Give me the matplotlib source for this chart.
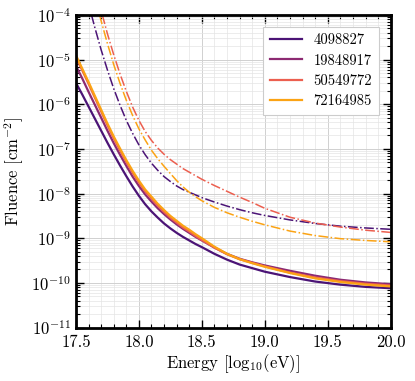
import numpy as np
import matplotlib
matplotlib.use("Agg")
import matplotlib.pyplot as plt
from matplotlib.ticker import MultipleLocator, LogLocator

plt.rcParams["font.family"] = "serif"
plt.rcParams["font.serif"] = ["cmr10", "DejaVu Serif"]
plt.rcParams["mathtext.fontset"] = "cm"
plt.rcParams["axes.formatter.use_mathtext"] = True

# energy grid [log10(eV)]
energy = [17.5, 17.55, 17.6, 17.65, 17.7, 17.75, 17.8, 17.85, 17.9, 17.95,
          18.0, 18.05, 18.1, 18.15, 18.2, 18.25, 18.3, 18.35, 18.4, 18.45,
          18.5, 18.6, 18.7, 18.8, 18.9, 19.0, 19.2, 19.4, 19.6, 19.8, 20.0]

labels = ["4098827", "19848917", "50549772", "72164985"]
colors = ["#4b1476", "#8c2a72", "#ec5f4f", "#fba314"]

# log10 fluence, solid curves
solid_log = [
    [-5.52, -5.78, -6.05, -6.32, -6.59, -6.86, -7.12, -7.37, -7.61, -7.84,
     -8.05, -8.24, -8.40, -8.54, -8.67, -8.78, -8.88, -8.97, -9.05, -9.13,
     -9.20, -9.35, -9.48, -9.59, -9.67, -9.75, -9.87, -9.97, -10.04, -10.09, -10.12],
    [-5.14, -5.42, -5.72, -6.01, -6.30, -6.59, -6.87, -7.13, -7.38, -7.62,
     -7.83, -8.02, -8.18, -8.33, -8.46, -8.58, -8.69, -8.79, -8.88, -8.97,
     -9.05, -9.21, -9.35, -9.46, -9.54, -9.61, -9.73, -9.84, -9.93, -9.99, -10.03],
    [-4.94, -5.24, -5.54, -5.85, -6.16, -6.47, -6.76, -7.03, -7.29, -7.53,
     -7.75, -7.95, -8.11, -8.27, -8.41, -8.54, -8.65, -8.76, -8.85, -8.95,
     -9.04, -9.21, -9.36, -9.47, -9.55, -9.63, -9.77, -9.88, -9.96, -10.02, -10.06],
    [-4.90, -5.20, -5.50, -5.81, -6.12, -6.43, -6.72, -6.99, -7.25, -7.49,
     -7.71, -7.91, -8.07, -8.23, -8.37, -8.50, -8.61, -8.72, -8.81, -8.91,
     -9.00, -9.19, -9.35, -9.47, -9.56, -9.64, -9.78, -9.90, -9.98, -10.04, -10.08],
]

# log10 fluence, dash-dot curves (values above 1e-4 fall outside the axes)
dd_colors = ["#4b1476", "#ec5f4f", "#fba314"]
dashdot_log = [
    [-2.50, -3.10, -3.75, -4.28, -4.78, -5.23, -5.65, -6.02, -6.36, -6.65,
     -6.91, -7.13, -7.32, -7.48, -7.62, -7.73, -7.83, -7.91, -7.97, -8.03,
     -8.09, -8.19, -8.28, -8.36, -8.43, -8.49, -8.59, -8.67, -8.73, -8.77, -8.80],
    [-1.80, -2.40, -2.95, -3.43, -3.90, -4.42, -4.89, -5.32, -5.71, -6.06,
     -6.36, -6.61, -6.81, -6.98, -7.12, -7.24, -7.34, -7.44, -7.52, -7.60,
     -7.68, -7.82, -7.95, -8.08, -8.20, -8.33, -8.53, -8.66, -8.75, -8.82, -8.87],
    [-1.90, -2.50, -3.05, -3.60, -4.13, -4.64, -5.11, -5.53, -5.91, -6.25,
     -6.55, -6.80, -7.03, -7.22, -7.39, -7.55, -7.71, -7.85, -7.97, -8.07,
     -8.16, -8.31, -8.43, -8.53, -8.62, -8.70, -8.84, -8.94, -9.01, -9.05, -9.08],
]

fig = plt.figure(figsize=(4.15, 3.81), dpi=100)
ax = fig.add_axes([0.183, 0.1404, 0.7585, 0.8202])

for vals, c, lab in zip(solid_log, colors, labels):
    ax.plot(energy, 10 ** np.array(vals), color=c, lw=1.6, label=lab)

for vals, c in zip(dashdot_log, dd_colors):
    ax.plot(energy, 10 ** np.array(vals), color=c, lw=1.1, ls="-.")

ax.set_yscale("log")
ax.set_xlim(17.5, 20.0)
ax.set_ylim(1e-11, 1e-4)

ax.xaxis.set_major_locator(MultipleLocator(0.5))
ax.xaxis.set_minor_locator(MultipleLocator(0.1))
ax.yaxis.set_major_locator(LogLocator(base=10, numticks=20))
ax.yaxis.set_minor_locator(LogLocator(base=10, subs=np.arange(2, 10), numticks=20))
ax.set_xticks([17.5, 18.0, 18.5, 19.0, 19.5, 20.0])
ax.set_xticklabels(["17.5", "18.0", "18.5", "19.0", "19.5", "20.0"])

ax.tick_params(which="both", direction="in", top=True, right=True, labelsize=12)
ax.tick_params(which="major", length=6, width=1.0)
ax.tick_params(which="minor", length=3, width=0.8)
ax.tick_params(axis="x", pad=5)
for s in ax.spines.values():
    s.set_linewidth(2.0)

ax.grid(which="major", color="#d0d0d0", lw=0.7)
ax.grid(which="minor", color="#e4e4e4", lw=0.5)
ax.set_axisbelow(True)

ax.set_xlabel(r"Energy [log$_{10}$(eV)]", fontsize=12, labelpad=2)
ax.set_ylabel(r"Fluence [cm$^{-2}$]", fontsize=12)

leg = ax.legend(loc="upper right", fontsize=10.5, fancybox=False, framealpha=1.0,
                edgecolor="#cccccc", handlelength=2.2, borderpad=0.45,
                labelspacing=0.45, bbox_to_anchor=(0.985, 0.985))
leg.get_frame().set_linewidth(0.8)

fig.savefig("out.png", dpi=100)
